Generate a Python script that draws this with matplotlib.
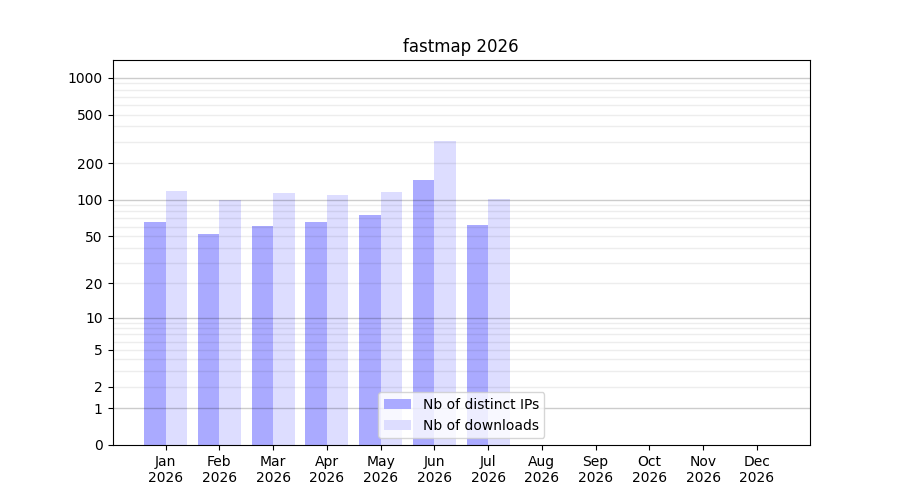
import numpy as np
import matplotlib
matplotlib.use("Agg")
import matplotlib.pyplot as plt

year = 2026
months = ["Jan", "Feb", "Mar", "Apr", "May", "Jun",
          "Jul", "Aug", "Sep", "Oct", "Nov", "Dec"]
distinct_ips = [65, 52, 61, 65, 75, 146, 62, 0, 0, 0, 0, 0]
downloads = [118, 100, 114, 110, 116, 305, 102, 0, 0, 0, 0, 0]
ytick_values = [0, 1, 2, 5, 10, 20, 50, 100, 200, 500, 1000]


def fwd(v):
    return np.log10(1 + np.asarray(v, dtype=float))


def inv(v):
    return 10 ** np.asarray(v, dtype=float) - 1


fig, ax = plt.subplots(figsize=(9, 5), dpi=100)
x = np.arange(len(months))
ax.bar(x, distinct_ips, width=-0.4, align="edge", color="#aaaaff",
       label="Nb of distinct IPs")
ax.bar(x, downloads, width=0.4, align="edge", color="#ddddff",
       label="Nb of downloads")

ax.set_yscale("function", functions=(fwd, inv))
ax.set_ylim(0, 1400)
ax.set_yticks(ytick_values)
ax.set_yticklabels([str(v) for v in ytick_values])
ax.minorticks_off()

# grid: decades darker, intermediate values lighter
for decade in [1, 10, 100, 1000]:
    ax.axhline(decade, color="black", alpha=0.2, lw=1, zorder=3)
    if decade < 1000:
        for k in range(2, 10):
            ax.axhline(decade * k, color="black", alpha=0.07, lw=1, zorder=3)

ax.set_xticks(x)
ax.set_xticklabels([f"{m}\n{year}" for m in months])
ax.set_title(f"fastmap {year}")
ax.legend(loc="lower center")

fig.savefig("out.png")
